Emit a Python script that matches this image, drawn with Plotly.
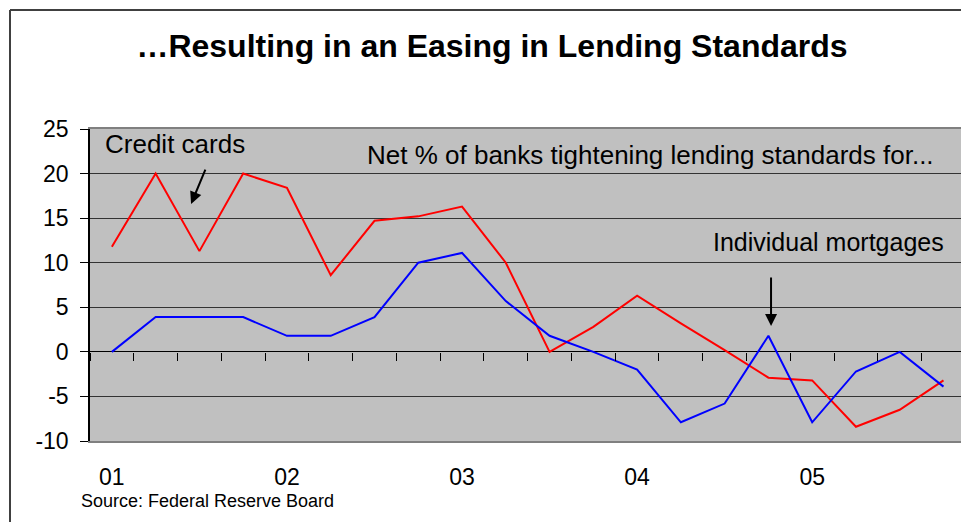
import plotly.graph_objects as go

# Quarterly survey, 2001 Q1 .. 2005 Q4
quarters = list(range(20))
year_ticks = [0, 4, 8, 12, 16]
year_labels = ["01", "02", "03", "04", "05"]
pct_ticks = [-10, -5, 0, 5, 10, 15, 20, 25]
pct_labels = ["-10", "-5", "0", "5", "10", "15", "20", "25"]

credit_cards = [11.8, 20.0, 11.3, 20.0, 18.4, 8.6, 14.7, 15.2, 16.3, 10.0,
                0.0, 2.8, 6.3, 3.2, 0.2, -2.9, -3.2, -8.4, -6.5, -3.2]
mortgages = [0.0, 3.9, 3.9, 3.9, 1.8, 1.8, 3.9, 10.0, 11.1, 5.7,
             1.8, 0.0, -2.0, -7.9, -5.8, 1.8, -7.9, -2.2, 0.0, -3.9]

FONT = "Liberation Sans, Arial, sans-serif"
W, H = 961, 522
ML, MR, MT, MB = 90, 0, 129, 81
PW, PH = W - ML - MR, H - MT - MB
Y_RANGE = [-10, 25]
X_RANGE = [-0.5, 19.4]


def px_x(px):
    return (px - ML) / PW


def px_y(py):
    return (H - MB - py) / PH


fig = go.Figure()

fig.add_trace(go.Scatter(x=quarters, y=credit_cards, mode="lines",
                         line=dict(color="#FF0000", width=2),
                         name="Credit cards", showlegend=False))
fig.add_trace(go.Scatter(x=quarters, y=mortgages, mode="lines",
                         line=dict(color="#0000FF", width=2),
                         name="Individual mortgages", showlegend=False))
# carrier for the tick axis along the zero line
fig.add_trace(go.Scatter(x=[None], y=[None], xaxis="x2", yaxis="y",
                         showlegend=False, hoverinfo="skip"))

annotations = [
    dict(text="Credit cards", x=-0.2, y=23.3, xref="x", yref="y",
         xanchor="left", yanchor="middle", showarrow=False,
         font=dict(family=FONT, size=26, color="black")),
    dict(text="Net % of banks tightening lending standards for...",
         x=18.83, y=22.1, xref="x", yref="y",
         xanchor="right", yanchor="middle", showarrow=False,
         font=dict(family=FONT, size=26, color="black")),
    dict(text="Individual mortgages", x=19.06, y=12.3, xref="x", yref="y",
         xanchor="right", yanchor="middle", showarrow=False,
         font=dict(family=FONT, size=25, color="black")),
    dict(text="", x=1.81, y=16.6, ax=2.15, ay=20.6, xref="x", yref="y",
         axref="x", ayref="y", showarrow=True, arrowhead=2, arrowsize=1.2,
         arrowwidth=2, arrowcolor="black"),
    dict(text="", x=15.06, y=2.9, ax=15.06, ay=8.5, xref="x", yref="y",
         axref="x", ayref="y", showarrow=True, arrowhead=2, arrowsize=1.2,
         arrowwidth=2, arrowcolor="black"),
    dict(text="Source: Federal Reserve Board", x=px_x(79), y=px_y(501),
         xref="paper", yref="paper", xanchor="left", yanchor="middle",
         showarrow=False, font=dict(family=FONT, size=18, color="black")),
]

shapes = [
    # outer chart frame
    dict(type="line", xref="paper", yref="paper",
         x0=px_x(10), x1=px_x(10), y0=px_y(10), y1=px_y(H + 5),
         line=dict(color="#404040", width=2)),
    dict(type="line", xref="paper", yref="paper",
         x0=px_x(10), x1=px_x(W + 5), y0=px_y(10), y1=px_y(10),
         line=dict(color="#404040", width=2)),
]

fig.update_layout(
    width=W, height=H,
    margin=dict(l=ML, r=MR, t=MT, b=MB, pad=0),
    paper_bgcolor="white",
    plot_bgcolor="#C0C0C0",
    showlegend=False,
    font=dict(family=FONT, color="black"),
    title=dict(text="…Resulting in an Easing in Lending Standards",
               xref="container", x=492 / W, xanchor="center",
               yref="container", y=1 - 46 / H, yanchor="middle",
               font=dict(family=FONT, size=32, color="black",
                         weight="bold")),
    xaxis=dict(range=X_RANGE, tickvals=year_ticks, ticktext=year_labels,
               ticks="", showgrid=False, zeroline=False,
               showline=True, linecolor="#808080", linewidth=2, mirror=True,
               tickfont=dict(family=FONT, size=23, color="black"),
               ticklabelstandoff=14),
    xaxis2=dict(range=X_RANGE, overlaying="x", anchor="free",
                position=(0 - Y_RANGE[0]) / (Y_RANGE[1] - Y_RANGE[0]),
                tickvals=[q - 0.5 for q in range(21)], ticks="outside",
                ticklen=8, tickwidth=1, tickcolor="black",
                showticklabels=False, showgrid=False, zeroline=False,
                showline=False),
    yaxis=dict(range=Y_RANGE, tickvals=pct_ticks, ticktext=pct_labels,
               ticks="outside",
               ticklen=8, tickwidth=1, tickcolor="black",
               showgrid=True, gridcolor="#333333", gridwidth=1,
               zeroline=True, zerolinecolor="black", zerolinewidth=1,
               showline=True, linecolor="black", linewidth=1.5,
               tickfont=dict(family=FONT, size=23, color="black"),
               ticklabelstandoff=7),
    annotations=annotations,
    shapes=shapes,
)

fig.write_html("out.html")
